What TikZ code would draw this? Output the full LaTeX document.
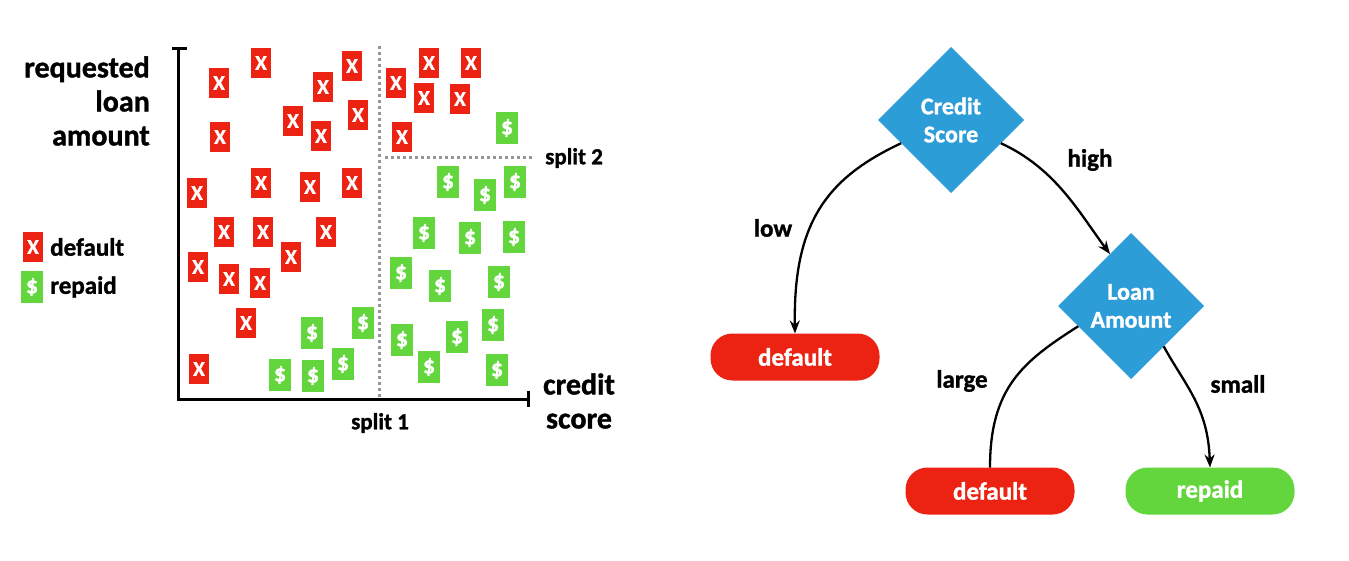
\documentclass[tikz,border=0pt]{standalone}
\usepackage{fontspec}
\setmainfont{Carlito}[BoldFeatures={FakeBold=1.2}]
\usetikzlibrary{shapes.geometric,arrows.meta}
\definecolor{cred}{RGB}{236,34,18}
\definecolor{cgreen}{RGB}{98,214,60}
\definecolor{cblue}{RGB}{45,157,216}
\definecolor{cdot}{RGB}{150,150,150}
\begin{document}
\begin{tikzpicture}[x=1pt,y=-1pt,
  xm/.style={fill=cred, minimum width=20pt, minimum height=30pt, inner sep=0pt, text=white, font=\fontsize{21}{22}\selectfont\bfseries},
  dm/.style={fill=cgreen, minimum width=22pt, minimum height=32pt, inner sep=0pt, text=white, font=\fontsize{24}{24}\selectfont\bfseries},
  axlbl/.style={font=\fontsize{30}{34}\selectfont\bfseries, inner sep=0pt},
  lbl/.style={font=\fontsize{25}{28}\selectfont\bfseries, inner sep=0pt},
  splbl/.style={font=\fontsize{23}{26}\selectfont\bfseries, inner sep=0pt},
  dec/.style={diamond, fill=cblue, minimum width=146pt, minimum height=146pt, aspect=1, inner sep=0pt, outer sep=0pt, text=white, align=center, font=\fontsize{24}{28}\selectfont\bfseries},
  leaf/.style={rounded corners=22pt, minimum width=169pt, minimum height=47pt, inner sep=0pt, outer sep=0pt, text=white, font=\fontsize{25}{28}\selectfont\bfseries},
  axis/.style={line width=3pt},
  splitline/.style={cdot, line width=3pt, dash pattern=on 3pt off 3pt},
  edge/.style={line width=2.3pt},
  tip/.style={-{Stealth[length=13pt,width=10pt]}}
]
\useasboundingbox (0,0) rectangle (1349,561);
\fill[white] (0,0) rectangle (1349,561);

% axes
\coordinate (otop) at (178,49);
\coordinate (orig) at (178,399);
\coordinate (xend) at (528,399);
\draw[axis] (otop) -- (orig) -- (xend);
\draw[axis] (172,49) -- (187,49);
\draw[axis] (528,391) -- (528,407);

% split lines
\coordinate (s1a) at (379,46);
\coordinate (s1b) at (379,397);
\coordinate (s2a) at (385,158);
\coordinate (s2b) at (533,158);
\draw[splitline] (s1a) -- (s1b);
\draw[splitline] (s2a) -- (s2b);

% red markers
\foreach \p [count=\i] in {(261,63),(219,83),(352,66),(323,87),(358,115),(293,121),(321,136),(220,137),
  (197,193),(261,183),(310,187),(352,183),
  (224,232),(263,232),(326,232),(291,257),(198,267),(229,279),(260,283),(246,323),(199,369),
  (429,63),(471,63),(396,83),(424,98),(460,99),(402,137)}
  \node[xm] (x\i) at \p {X};

% green markers
\foreach \p [count=\i] in {(312,333),(363,323),(280,375),(313,376),(343,364),
  (507,128),(448,182),(485,195),(515,182),
  (424,233),(470,238),(514,237),(401,273),(440,286),(499,282),
  (402,340),(457,337),(493,325),(429,367),(497,370)}
  \node[dm] (g\i) at \p {\$};

% axis labels
\node[axlbl, anchor=east, align=right] (ylab) at (150,101) {requested\\loan\\amount};
\node[axlbl, align=center] (xlab) at (579,401) {credit\\score};
\node[splbl] (sp1) at (380,423) {split 1};
\node[splbl, anchor=west] (sp2) at (545,158) {split 2};

% legend
\node[xm] (lx) at (33,247) {X};
\node[dm] (lg) at (32,287) {\$};
\node[lbl, anchor=west] (ld) at (50,247) {default};
\node[lbl, anchor=west] (lr) at (50,287) {repaid};

% tree
\node[dec] (cs) at (951,120) {Credit\\Score};
\node[dec] (la) at (1131,306) {Loan\\Amount};
\node[leaf, fill=cred] (d1) at (795,357) {default};
\node[leaf, fill=cred] (d2) at (990,491) {default};
\node[leaf, fill=cgreen] (rp) at (1210,491) {repaid};

\draw[edge, tip] (cs.205) .. controls +(-75,35) and +(-2,-110) .. (d1.north);
\draw[edge, tip] (cs.-25) .. controls +(55,25) and +(-30,-40) .. (la.112);
\draw[edge] (la.201) .. controls +(-55,35) and +(0,-80) .. (d2.north);
\draw[edge, tip] (la.-51) .. controls +(22,40) and +(-2,-60) .. (rp.north);

\node[lbl] (tlow) at (773,228) {low};
\node[lbl] (thigh) at (1090,160) {high};
\node[lbl] (tlarge) at (962,381) {large};
\node[lbl] (tsmall) at (1238,384) {small};
\end{tikzpicture}
\end{document}
